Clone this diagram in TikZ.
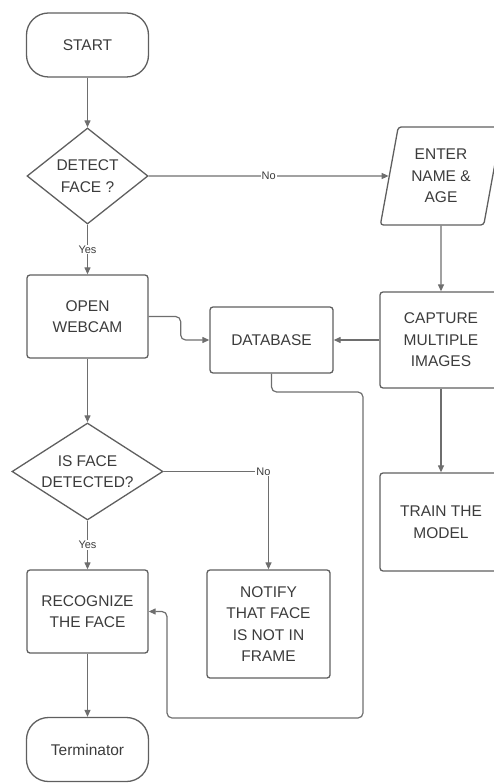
\documentclass[tikz,border=0pt]{standalone}
\usepackage{fontspec}
\setmainfont{Liberation Sans}
\usetikzlibrary{shapes.geometric,arrows.meta}
\definecolor{edgegray}{RGB}{95,95,95}
\definecolor{linegray}{RGB}{110,110,110}
\definecolor{txtgray}{RGB}{60,60,60}

\begin{document}
\begin{tikzpicture}[x=1pt,y=-1pt,
  base/.style={draw=edgegray, line width=1.3pt, text=txtgray,
    font=\fontsize{15.5}{21.5}\selectfont, align=center, inner sep=0pt},
  procbox/.style={base, rectangle, rounded corners=3pt},
  termbox/.style={base, rectangle, rounded corners=22pt,
    minimum width=122pt, minimum height=64pt},
  decision/.style={base, diamond},
  iobox/.style={base, trapezium, trapezium left angle=77,
    trapezium right angle=103, trapezium stretches=true, rounded corners=3pt},
  flow/.style={draw=linegray, line width=1.2pt, -{Triangle[length=7pt,width=6pt]}},
  tag/.style={fill=white, text=txtgray, font=\fontsize{11}{13}\selectfont, inner sep=1pt}
]
\clip (0,0) rectangle (494,783);

% shapes
\node[termbox] (start) at (87.5,45) {START};
\node[decision, minimum width=121pt, minimum height=96pt, aspect=1.26] (detect) at (87.5,176) {DETECT\\FACE ?};
\node[iobox, minimum width=122pt, minimum height=98pt] (enter) at (441,176) {ENTER\\NAME \&\\AGE};
\node[procbox, minimum width=121pt, minimum height=83pt] (webcam) at (87.5,316.5) {OPEN\\WEBCAM};
\node[procbox, minimum width=123pt, minimum height=66pt] (db) at (271.5,340) {DATABASE};
\node[procbox, minimum width=122pt, minimum height=96pt] (capture) at (441,340) {CAPTURE\\MULTIPLE\\IMAGES};
\node[decision, minimum width=151pt, minimum height=97pt, aspect=1.56] (isface) at (87.5,471.5) {IS FACE\\DETECTED?};
\node[procbox, minimum width=122pt, minimum height=98pt] (train) at (441,522) {TRAIN THE\\MODEL};
\node[procbox, minimum width=121pt, minimum height=83pt] (recog) at (87.5,611.5) {RECOGNIZE\\THE FACE};
\node[procbox, minimum width=123pt, minimum height=108pt] (notify) at (268.5,624) {NOTIFY\\THAT FACE\\IS NOT IN\\FRAME};
\node[termbox] (term) at (87.5,749.5) {Terminator};

% bends of the database loop
\coordinate (loopA) at (363,392);
\coordinate (loopB) at (167,718);

% connectors
\draw[flow] (start) -- (detect);
\draw[flow] (detect) -- node[tag]{No} (enter);
\draw[flow] (detect) -- node[tag]{Yes} (webcam);
\draw[flow] (enter) -- (capture);
\draw[flow] (capture) -- (db);
\draw[flow, rounded corners=5pt] (webcam.east) -- ++(32,0) |- (db.west);
\draw[flow] (webcam) -- (isface);
\draw[flow] (isface.east) -| node[tag, pos=0.5, xshift=-5pt]{No} (notify.north);
\draw[flow] (isface) -- node[tag]{Yes} (recog);
\draw[flow] (capture) -- (train);
\draw[flow] (recog) -- (term);
\draw[flow, rounded corners=5pt] (db.south) |- (loopA) |- (loopB) |- (recog.east);
\end{tikzpicture}
\end{document}
